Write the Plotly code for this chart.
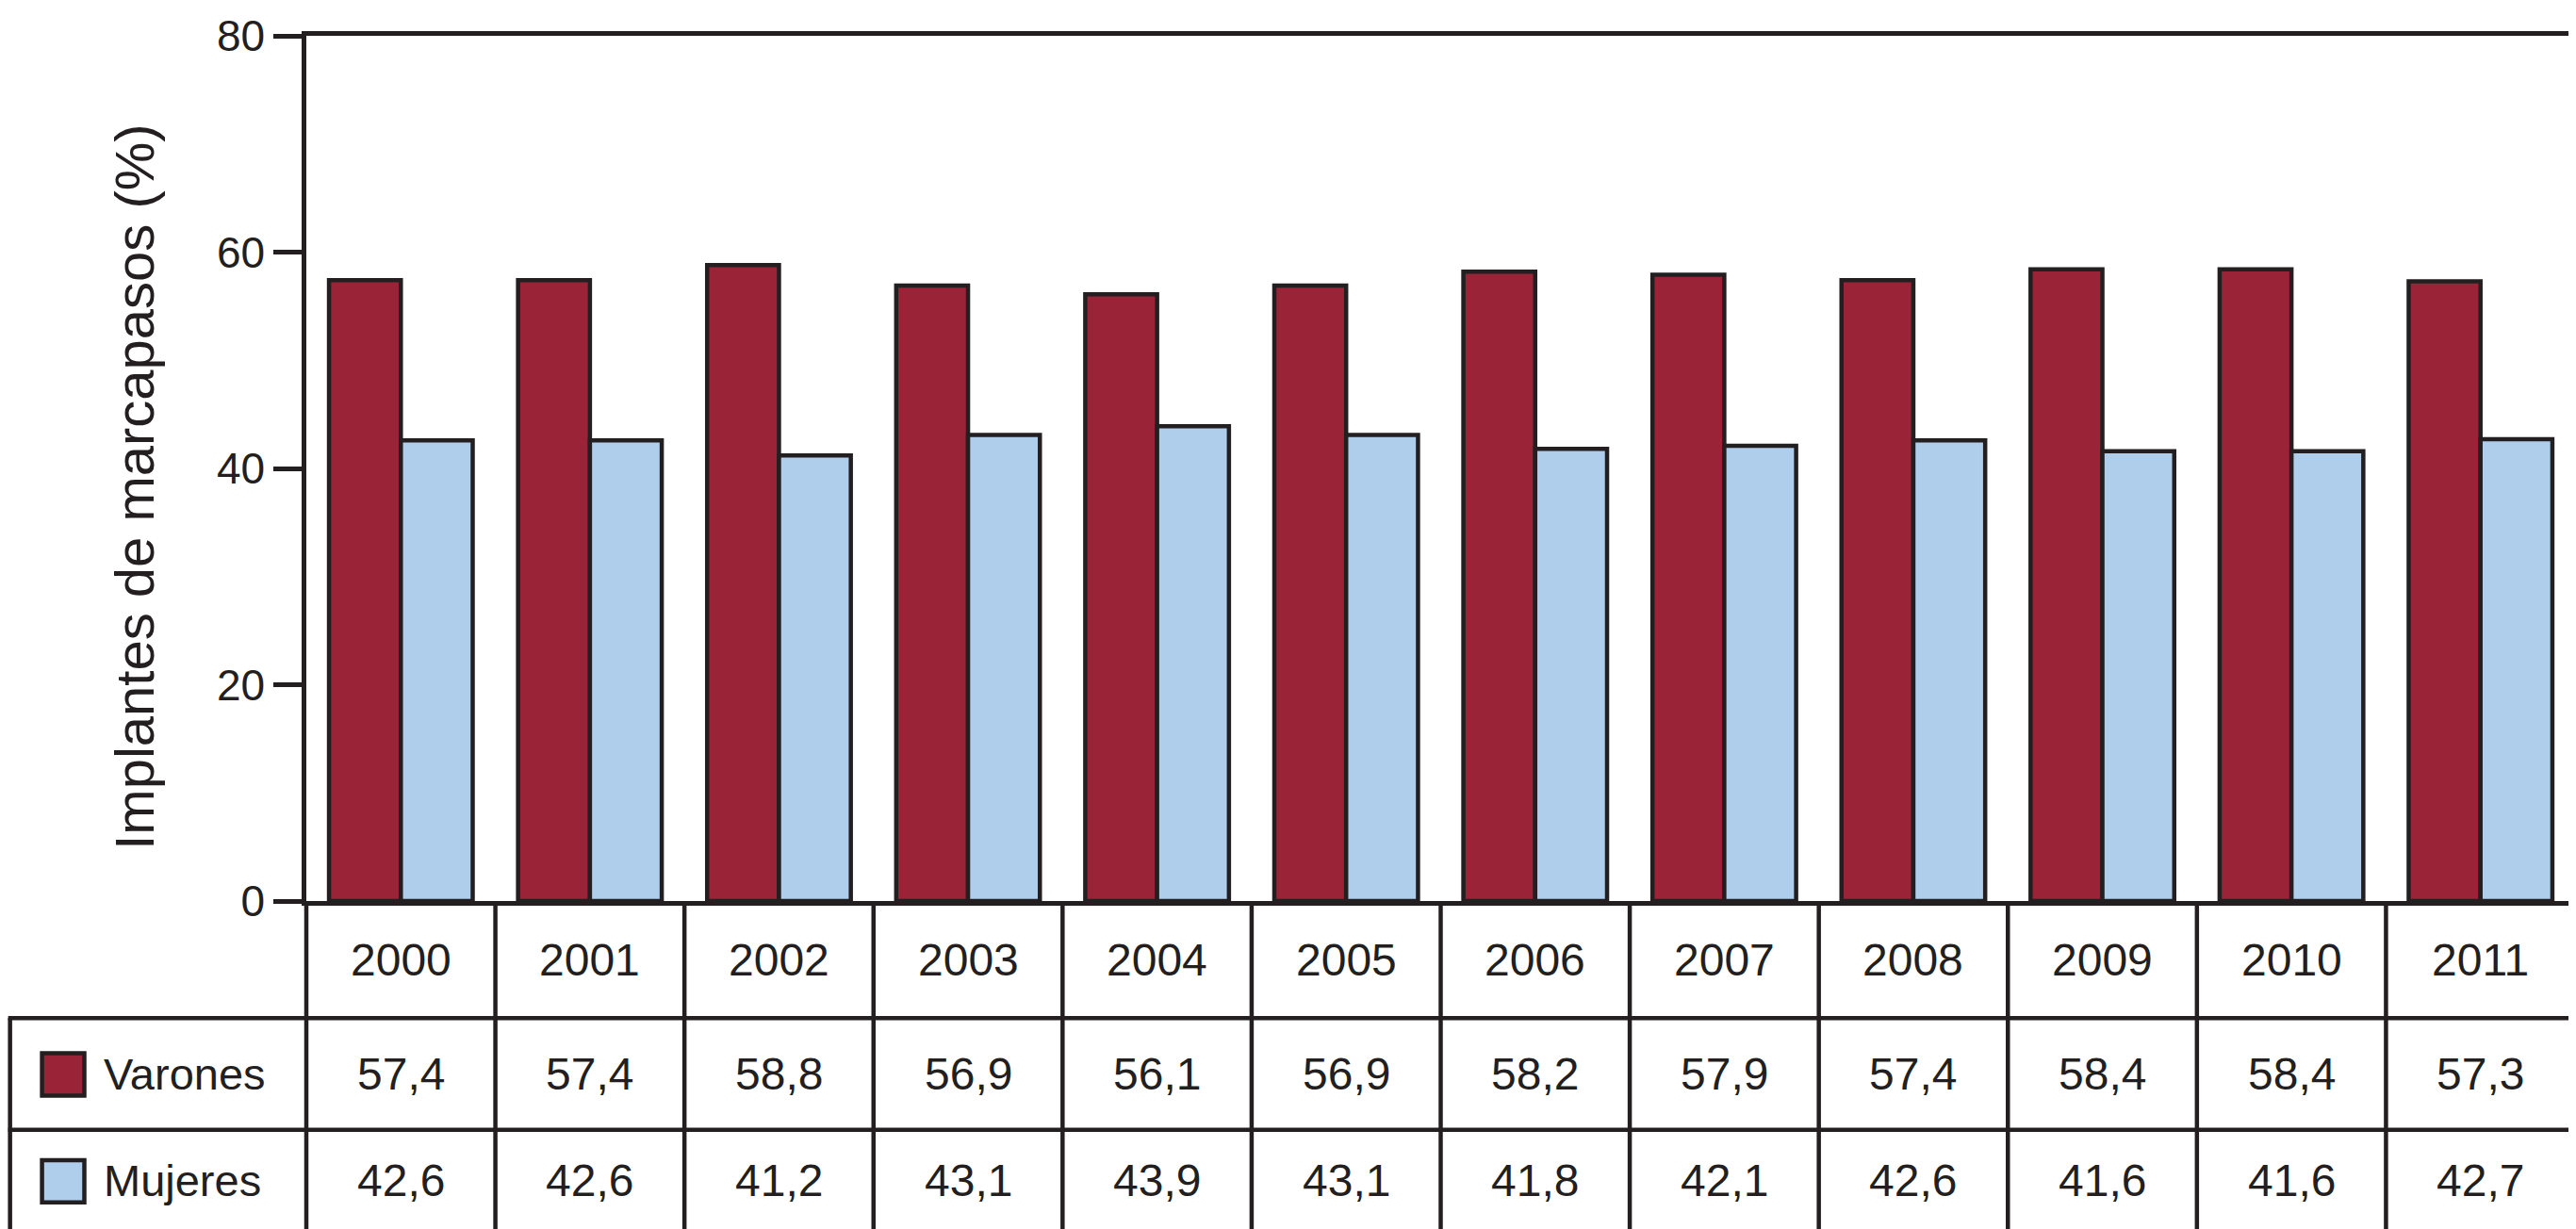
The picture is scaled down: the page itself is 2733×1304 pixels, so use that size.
import plotly.graph_objects as go

# ---------------- data ----------------
years = ["2000", "2001", "2002", "2003", "2004", "2005",
         "2006", "2007", "2008", "2009", "2010", "2011"]
varones = [57.4, 57.4, 58.8, 56.9, 56.1, 56.9, 58.2, 57.9, 57.4, 58.4, 58.4, 57.3]
mujeres = [42.6, 42.6, 41.2, 43.1, 43.9, 43.1, 41.8, 42.1, 42.6, 41.6, 41.6, 42.7]
series_names = ["Varones", "Mujeres"]
y_ticks = [0, 20, 40, 60, 80]
y_title = "Implantes de marcapasos (%)"

# ---------------- style ----------------
W, H = 2733, 1304
L, R, T, B = 317, 2729, 25, 948          # plot area in pixels
ROW_LINES = [1073, 1192, 1301]           # table horizontal lines (pixels)
INK = "#231F20"
RED = "#9B2337"
BLUE = "#AECEEC"
FONT = "Liberation Sans, Arial, Helvetica, sans-serif"
FS_TICK = 46
FS_TABLE = 48
FS_LABEL = 47
FS_TITLE = 58
LW = 4.5


def px_x(p):
    return (p - L) / (R - L)


def px_y(p):
    return (B - p) / (B - T)


def fmt(v):
    return f"{v:.1f}".replace(".", ",")


fig = go.Figure()
fig.add_trace(go.Bar(x=years, y=varones, name=series_names[0],
                     marker=dict(color=RED, line=dict(color=INK, width=LW))))
fig.add_trace(go.Bar(x=years, y=mujeres, name=series_names[1],
                     marker=dict(color=BLUE, line=dict(color=INK, width=LW))))

shapes = []
annotations = []

# table vertical lines (inner column separators) through the x scale
for i in range(1, len(years)):
    shapes.append(dict(type="line", xref="x", yref="paper",
                       x0=i - 0.5, x1=i - 0.5, y0=0, y1=px_y(ROW_LINES[-1]),
                       line=dict(color=INK, width=LW)))
# outer vertical lines
for xp in (0, 1):
    shapes.append(dict(type="line", xref="paper", yref="paper",
                       x0=xp, x1=xp, y0=0, y1=px_y(ROW_LINES[-1]),
                       line=dict(color=INK, width=LW)))
shapes.append(dict(type="line", xref="paper", yref="paper",
                   x0=px_x(2), x1=px_x(2), y0=px_y(ROW_LINES[0]), y1=px_y(ROW_LINES[-1]),
                   line=dict(color=INK, width=LW)))
# horizontal table lines
for rl in ROW_LINES:
    shapes.append(dict(type="line", xref="paper", yref="paper",
                       x0=px_x(0), x1=1, y0=px_y(rl), y1=px_y(rl),
                       line=dict(color=INK, width=LW)))

# header row (years) -- positioned by category index on the x axis
hdr_y = px_y((B + ROW_LINES[0]) / 2)
for i, yr in enumerate(years):
    annotations.append(dict(x=i, y=hdr_y, xref="x", yref="paper", text=yr,
                            showarrow=False, xanchor="center", yanchor="middle",
                            font=dict(family=FONT, size=FS_TABLE, color=INK)))

# data rows
rows = [(varones, RED, series_names[0], ROW_LINES[0], ROW_LINES[1]),
        (mujeres, BLUE, series_names[1], ROW_LINES[1], ROW_LINES[2])]
for vals, col, name, top, bot in rows:
    cy = (top + bot) / 2
    for i, v in enumerate(vals):
        annotations.append(dict(x=i, y=px_y(cy), xref="x", yref="paper", text=fmt(v),
                                showarrow=False, xanchor="center", yanchor="middle",
                                font=dict(family=FONT, size=FS_TABLE, color=INK)))
    # legend swatch
    shapes.append(dict(type="rect", xref="paper", yref="paper",
                       x0=px_x(36), x1=px_x(81), y0=px_y(cy - 22), y1=px_y(cy + 23),
                       fillcolor=col, line=dict(color=INK, width=LW)))
    annotations.append(dict(x=px_x(100), y=px_y(cy), xref="paper", yref="paper",
                            text=name, showarrow=False, xanchor="left", yanchor="middle",
                            font=dict(family=FONT, size=FS_LABEL, color=INK)))

# y-axis title
annotations.append(dict(x=px_x(134), y=px_y(506), xref="paper", yref="paper",
                        text=y_title, textangle=-90, showarrow=False,
                        xanchor="center", yanchor="middle",
                        font=dict(family=FONT, size=FS_TITLE, color=INK)))

fig.update_layout(
    width=W, height=H,
    margin=dict(l=L, r=W - R, t=T, b=H - B, pad=0),
    paper_bgcolor="white", plot_bgcolor="white",
    barmode="group", bargap=0.24, bargroupgap=0,
    showlegend=False,
    shapes=shapes, annotations=annotations,
    font=dict(family=FONT, size=FS_TICK, color=INK),
)
fig.update_xaxes(type="category", range=[-0.5, len(years) - 0.5],
                 showline=True, linecolor=INK, linewidth=LW, mirror=True,
                 showticklabels=False, ticks="", showgrid=False, zeroline=False)
fig.update_yaxes(range=[0, 80], tickvals=y_ticks,
                 showline=True, linecolor=INK, linewidth=LW, mirror=True,
                 ticks="outside", ticklen=30, tickwidth=LW, tickcolor=INK,
                 ticklabeloverflow="allow",
                 tickfont=dict(family=FONT, size=FS_TICK, color=INK),
                 showgrid=False, zeroline=False)

fig.write_html("out.html")
